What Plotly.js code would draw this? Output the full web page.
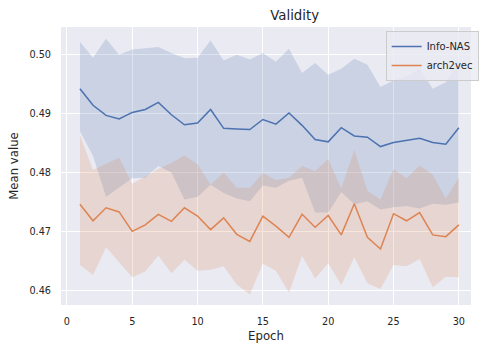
<!DOCTYPE html>
<html>
<head>
<meta charset="utf-8">
<script src="https://cdn.plot.ly/plotly-3.0.1.min.js"></script>
<style>html,body{margin:0;padding:0;background:#fff;}#chart{width:479px;height:345px;}</style>
</head>
<body>
<div id="chart"></div>
<script>
const epochs = [1,2,3,4,5,6,7,8,9,10,11,12,13,14,15,16,17,18,19,20,21,22,23,24,25,26,27,28,29,30];

const infoNasMean = [0.4942,0.4914,0.4897,0.4891,0.4902,0.4907,0.4919,0.4898,0.4881,0.4884,0.4907,0.4875,0.4874,0.4873,0.4890,0.4882,0.4901,0.4880,0.4856,0.4852,0.4876,0.4862,0.4860,0.4844,0.4851,0.4854,0.4858,0.4851,0.4848,0.4876];
const infoNasUpper = [0.5022,0.4995,0.5027,0.5000,0.5009,0.5011,0.5013,0.5003,0.4994,0.4995,0.5024,0.4990,0.5000,0.4992,0.5003,0.4988,0.5010,0.4969,0.4986,0.4966,0.4976,0.4993,0.4983,0.4945,0.4956,0.4963,0.4976,0.4942,0.4953,0.4991];
const infoNasLower = [0.4870,0.4828,0.4759,0.4774,0.4790,0.4791,0.4811,0.4800,0.4754,0.4759,0.4779,0.4765,0.4756,0.4751,0.4778,0.4774,0.4786,0.4791,0.4732,0.4732,0.4767,0.4746,0.4751,0.4737,0.4741,0.4743,0.4739,0.4747,0.4745,0.4749];

const arch2vecMean = [0.4746,0.4718,0.4740,0.4733,0.4700,0.4711,0.4729,0.4717,0.4740,0.4726,0.4703,0.4723,0.4695,0.4683,0.4726,0.4709,0.4690,0.4729,0.4707,0.4727,0.4694,0.4747,0.4690,0.4670,0.4730,0.4718,0.4732,0.4694,0.4691,0.4711];
const arch2vecUpper = [0.4863,0.4804,0.4815,0.4825,0.4781,0.4793,0.4806,0.4816,0.4829,0.4814,0.4779,0.4800,0.4774,0.4774,0.4799,0.4787,0.4791,0.4811,0.4802,0.4823,0.4773,0.4838,0.4769,0.4754,0.4806,0.4790,0.4812,0.4796,0.4756,0.4791];
const arch2vecLower = [0.4643,0.4626,0.4673,0.4647,0.4622,0.4632,0.4659,0.4629,0.4652,0.4633,0.4635,0.4641,0.4610,0.4593,0.4645,0.4633,0.4596,0.4658,0.4620,0.4646,0.4609,0.4656,0.4612,0.4602,0.4643,0.4641,0.4653,0.4605,0.4623,0.4622];

const seriesNames = ["Info-NAS", "arch2vec"];
const xTicks = [0,5,10,15,20,25,30];
const yTicks = [0.46,0.47,0.48,0.49,0.50];
const yTickText = ["0.46","0.47","0.48","0.49","0.50"];

const BLUE = "#4c72b0", ORANGE = "#dd8452";
const TXT = "#262626";

const traces = [
  {x: epochs, y: infoNasUpper, mode: "lines", line: {width: 0, color: BLUE}, showlegend: false, hoverinfo: "skip"},
  {x: epochs, y: infoNasLower, mode: "lines", line: {width: 0, color: BLUE}, fill: "tonexty", fillcolor: "rgba(76,114,176,0.2)", showlegend: false, hoverinfo: "skip"},
  {x: epochs, y: arch2vecUpper, mode: "lines", line: {width: 0, color: ORANGE}, showlegend: false, hoverinfo: "skip"},
  {x: epochs, y: arch2vecLower, mode: "lines", line: {width: 0, color: ORANGE}, fill: "tonexty", fillcolor: "rgba(221,132,82,0.2)", showlegend: false, hoverinfo: "skip"},
  {x: epochs, y: infoNasMean, mode: "lines", name: seriesNames[0], line: {width: 1.5, color: BLUE}},
  {x: epochs, y: arch2vecMean, mode: "lines", name: seriesNames[1], line: {width: 1.5, color: ORANGE}}
];

const layout = {
  width: 479, height: 345,
  margin: {l: 61, r: 0, t: 27, b: 40, pad: 0},
  paper_bgcolor: "#ffffff",
  plot_bgcolor: "#eaeaf2",
  font: {family: "DejaVu Sans", color: TXT, size: 10},
  title: {text: "Validity", font: {size: 13.3, color: TXT, family: "DejaVu Sans"}, x: 273/479, xref: "paper", xanchor: "center", y: 1 - 15.5/345, yanchor: "middle"},
  xaxis: {
    range: [-0.45, 30.93], tickvals: xTicks, ticktext: xTicks.map(String),
    showgrid: true, gridcolor: "#ffffff", gridwidth: 1, zeroline: false, showline: false,
    ticks: "", ticklabelstandoff: 9, tickfont: {size: 9.7, color: TXT},
    title: {text: "Epoch", font: {size: 11.7, color: TXT}, standoff: 6},
    automargin: false
  },
  yaxis: {
    range: [0.4575, 0.5047], tickvals: yTicks, ticktext: yTickText,
    showgrid: true, gridcolor: "#ffffff", gridwidth: 1, zeroline: false, showline: false,
    ticks: "", ticklabelstandoff: 9, tickfont: {size: 9.7, color: TXT},
    title: {text: "Mean value", font: {size: 11.7, color: TXT}, standoff: 8},
    automargin: false
  },
  showlegend: true,
  legend: {
    x: (392-61)/418, y: 1 - (31-27)/278, xanchor: "left", yanchor: "top",
    traceorder: "normal",
    bgcolor: "rgba(234,234,242,0.8)", bordercolor: "#cccccc", borderwidth: 1,
    font: {size: 10, color: TXT}, itemwidth: 30, tracegroupgap: 0
  },
  hovermode: false
};

Plotly.newPlot("chart", traces, layout, {staticPlot: true, displayModeBar: false});
</script>
</body>
</html>
